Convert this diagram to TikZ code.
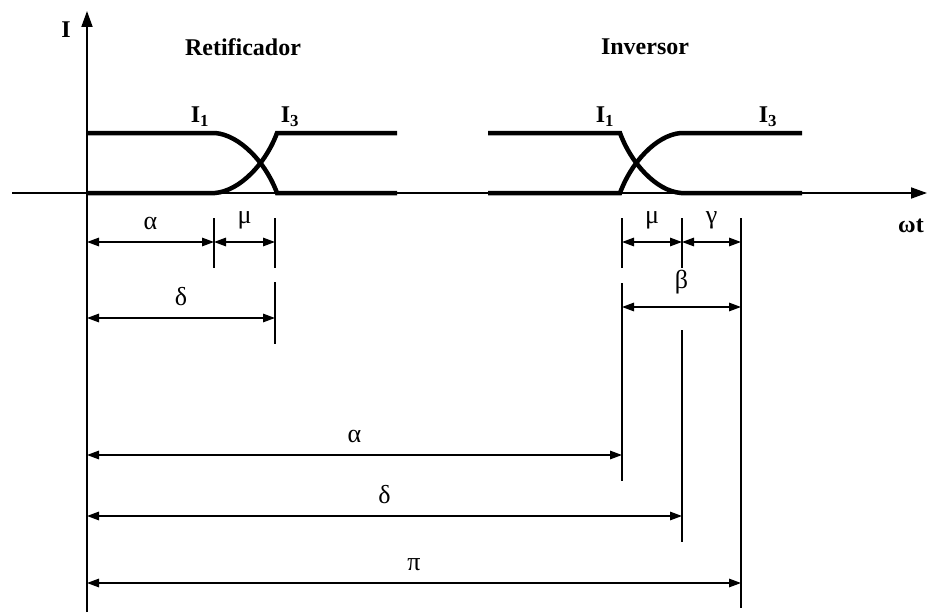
\documentclass[tikz,border=0pt]{standalone}
\usepackage{fontspec}
\setmainfont{Liberation Serif}
\usetikzlibrary{arrows.meta}
\begin{document}
\begin{tikzpicture}[x=1pt,y=-1pt,
  axis/.style={line width=1.8pt,-{Triangle[length=16pt,width=11pt]}},
  wave/.style={line width=4.5pt,line cap=butt},
  tick/.style={line width=1.6pt},
  dim/.style={line width=1.4pt,{Triangle[length=12pt,width=8.5pt]}-{Triangle[length=12pt,width=8.5pt]}},
  bold/.style={font=\fontsize{24}{28}\selectfont\bfseries,inner sep=0pt},
  greek/.style={font=\fontsize{26}{30}\selectfont,inner sep=0pt}]
\useasboundingbox (0,0) rectangle (928,615);
% axes
\coordinate (ybot) at (87,612);
\coordinate (ytop) at (87,11);
\coordinate (xl) at (12,193);
\coordinate (xr) at (927,193);
\draw[axis] (ybot) -- (ytop);
\draw[axis] (xl) -- (xr);
% left waveforms
\draw[wave] (87,133) -- (215,133) .. controls (240,135) and (266,163) .. (277,193) -- (397,193);
\draw[wave] (87,193) -- (215,193) .. controls (240,191) and (266,163) .. (277,133) -- (397,133);
% right waveforms
\draw[wave] (488,133) -- (620,133) .. controls (631,163) and (656,191) .. (681,193) -- (802,193);
\draw[wave] (488,193) -- (620,193) .. controls (631,163) and (656,135) .. (681,133) -- (802,133);
% labels
\node[bold] (Ilab) at (66,30) {I};
\node[bold] (ret) at (243,47) {Retificador};
\node[bold] (inv) at (645,47) {Inversor};
\node[bold] (I1a) at (200,117) {I\textsubscript{1}};
\node[bold] (I3a) at (290,117) {I\textsubscript{3}};
\node[bold] (I1b) at (605,117) {I\textsubscript{1}};
\node[bold] (I3b) at (768,117) {I\textsubscript{3}};
\node[bold] (wt) at (911,226) {ωt};
% ticks
\coordinate (a1t) at (214,218); \coordinate (a1b) at (214,268);
\coordinate (m1t) at (275,218); \coordinate (m1b) at (275,268);
\coordinate (d1t) at (275,282); \coordinate (d1b) at (275,344);
\draw[tick] (a1t) -- (a1b);
\draw[tick] (m1t) -- (m1b);
\draw[tick] (d1t) -- (d1b);
\coordinate (r1t) at (622,218); \coordinate (r1b) at (622,268);
\coordinate (r2t) at (682,218); \coordinate (r2b) at (682,268);
\coordinate (r3t) at (741,218); \coordinate (r3b) at (741,608);
\coordinate (r4t) at (622,283); \coordinate (r4b) at (622,481);
\coordinate (r5t) at (682,330); \coordinate (r5b) at (682,542);
\draw[tick] (r1t) -- (r1b);
\draw[tick] (r2t) -- (r2b);
\draw[tick] (r3t) -- (r3b);
\draw[tick] (r4t) -- (r4b);
\draw[tick] (r5t) -- (r5b);
% dimension lines
\coordinate (o1) at (87,242);
\coordinate (o2) at (87,318);
\coordinate (o3) at (87,455);
\coordinate (o4) at (87,516);
\coordinate (o5) at (87,583);
\draw[dim] (o1) -- (214,242) node[midway,above=12pt,greek] (la1) {α};
\draw[dim] (214,242) -- (275,242) node[midway,above=12pt,greek] (lm1) {μ};
\draw[dim] (o2) -- (275,318) node[midway,above=12pt,greek] (ld1) {δ};
\draw[dim] (622,242) -- (682,242) node[midway,above=12pt,greek] (lm2) {μ};
\draw[dim] (682,242) -- (741,242) node[midway,above=12pt,greek] (lg2) {γ};
\draw[dim] (622,307) -- (741,307) node[midway,above=12pt,greek] (lb2) {β};
\draw[dim] (o3) -- (622,455) node[midway,above=12pt,greek] (la2) {α};
\draw[dim] (o4) -- (682,516) node[midway,above=12pt,greek] (ld2) {δ};
\draw[dim] (o5) -- (741,583) node[midway,above=12pt,greek] (lp2) {π};
\end{tikzpicture}
\end{document}
